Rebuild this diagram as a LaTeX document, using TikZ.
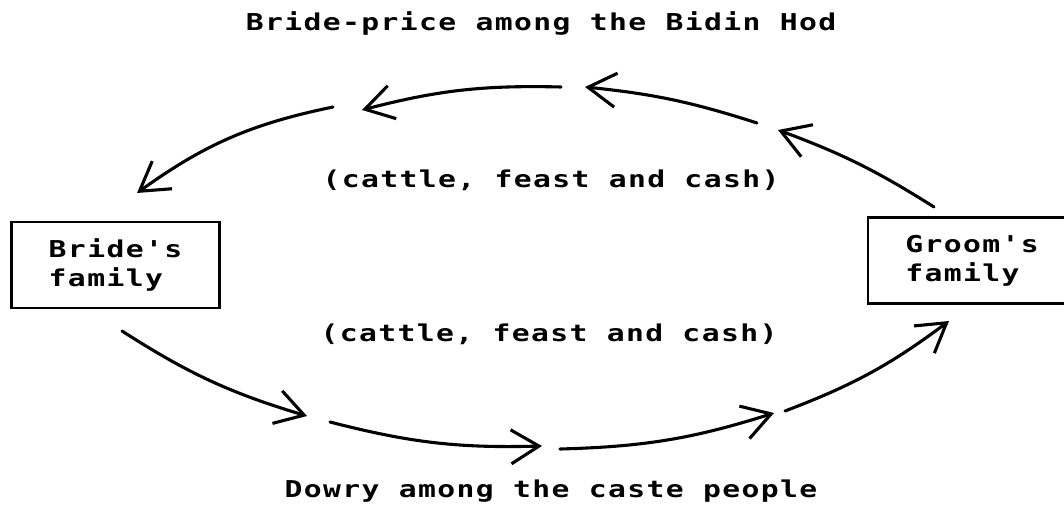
\documentclass[tikz,border=0pt]{standalone}
\usepackage{fontspec}
\usepackage{tikz}
\usetikzlibrary{arrows.meta}
\newfontfamily\dotfont[LetterSpace=6, FakeStretch=1.28]{DejaVu Sans Mono}
\newcommand{\giftfont}{\dotfont\bfseries\fontsize{16.5}{20.6}\selectfont}
\tikzset{
    giftfamily/.style={draw, line width=2pt, align=left, minimum width=5.2cm, minimum height=2.15cm, font=\giftfont},
    gifttext/.style={align=center, inner sep=0pt, font=\giftfont},
    giftarrow/.style={draw, line width=2.2pt, line cap=round, -{Straight Barb[length=7mm, width=8.5mm, line width=2.2pt]}}
}

\begin{document}
\begin{tikzpicture}[x=0.025cm, y=0.025cm]
    \useasboundingbox (0,0) rectangle (1064,508);
    \node[giftfamily] (bride) at (115.5,243) {Bride's\\family};
    \node[giftfamily] (groom) at (972,247.5) {Groom's\\family};

    \node[gifttext] (pricetitle) at (541,485) {Bride-price among the Bidin Hod};
    \node[gifttext] (pricegoods) at (551,328) {(cattle, feast and cash)};
    \node[gifttext] (dowrygoods) at (549,174) {(cattle, feast and cash)};
    \node[gifttext] (dowrytitle) at (551,17) {Dowry among the caste people};

    % bride-price, groom to bride
    \coordinate (price1) at (934,301);
    \coordinate (price1end) at (778,378);
    \coordinate (price2) at (757,385);
    \coordinate (price2end) at (585,421);
    \coordinate (price3) at (561,421);
    \coordinate (price3end) at (362,398);
    \coordinate (price4) at (333,401);
    \coordinate (price4end) at (137,315);

    % dowry, bride to groom
    \coordinate (dowry1) at (122,177);
    \coordinate (dowry1end) at (307,92);
    \coordinate (dowry2) at (330,86);
    \coordinate (dowry2end) at (542,62);
    \coordinate (dowry3) at (560,59);
    \coordinate (dowry3end) at (774,95);
    \coordinate (dowry4) at (785,97);
    \coordinate (dowry4end) at (949,187);

    \draw[giftarrow] (price1) to[bend right=6] (price1end);
    \draw[giftarrow] (price2) to[bend right=6] (price2end);
    \draw[giftarrow] (price3) to[bend right=8] (price3end);
    \draw[giftarrow] (price4) to[bend right=12] (price4end);
    \draw[giftarrow] (dowry1) to[bend right=8] (dowry1end);
    \draw[giftarrow] (dowry2) to[bend right=8] (dowry2end);
    \draw[giftarrow] (dowry3) to[bend right=8] (dowry3end);
    \draw[giftarrow] (dowry4) to[bend right=8] (dowry4end);
\end{tikzpicture}
\end{document}
